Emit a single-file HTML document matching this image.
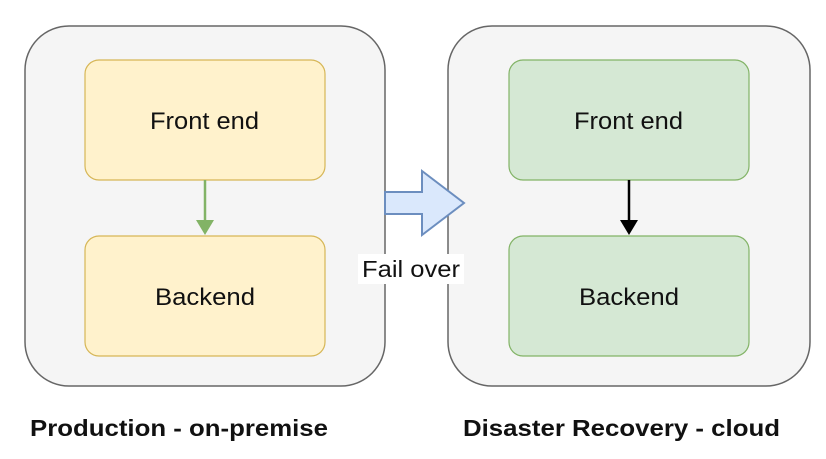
<!DOCTYPE html>
<html><head><style>
body{margin:0;width:826px;height:454px;background:#fff;overflow:hidden;font-family:"Liberation Sans",Arial,sans-serif;}
</style></head><body>
<svg width="826" height="454" xmlns="http://www.w3.org/2000/svg" font-family="Liberation Sans, Arial, sans-serif">
<rect x="25" y="26" width="360" height="360" rx="44" fill="#f5f5f5" stroke="#666" stroke-width="1.5"/>
<rect x="448" y="26" width="362" height="360" rx="44" fill="#f5f5f5" stroke="#666" stroke-width="1.5"/>
<rect x="85" y="60" width="240" height="120" rx="14" fill="#fff2cc" stroke="#d6b656" stroke-width="1.2"/>
<rect x="85" y="236" width="240" height="120" rx="14" fill="#fff2cc" stroke="#d6b656" stroke-width="1.2"/>
<rect x="509" y="60" width="240" height="120" rx="14" fill="#d5e8d4" stroke="#82b366" stroke-width="1.2"/>
<rect x="509" y="236" width="240" height="120" rx="14" fill="#d5e8d4" stroke="#82b366" stroke-width="1.2"/>
<text x="150" y="129" font-size="24" textLength="109" lengthAdjust="spacingAndGlyphs" fill="#111">Front end</text>
<text x="155" y="305" font-size="24" textLength="100" lengthAdjust="spacingAndGlyphs" fill="#111">Backend</text>
<text x="574" y="129" font-size="24" textLength="109" lengthAdjust="spacingAndGlyphs" fill="#111">Front end</text>
<text x="579" y="305" font-size="24" textLength="100" lengthAdjust="spacingAndGlyphs" fill="#111">Backend</text>
<line x1="205" y1="180" x2="205" y2="224" stroke="#82b366" stroke-width="2.5"/>
<polygon points="196,220 214,220 205,235" fill="#82b366"/>
<line x1="629" y1="180" x2="629" y2="224" stroke="#000" stroke-width="2.5"/>
<polygon points="620,220 638,220 629,235" fill="#000"/>
<polygon points="385,192 422,192 422,171 464,203 422,235 422,214 385,214" fill="#dae8fc" stroke="#6c8ebf" stroke-width="2"/>
<rect x="358" y="254" width="106" height="30" fill="#fff"/>
<text x="362" y="277" font-size="23" textLength="98" lengthAdjust="spacingAndGlyphs" fill="#111">Fail over</text>
<text x="30" y="436" font-size="23" font-weight="bold" textLength="298" lengthAdjust="spacingAndGlyphs" fill="#111">Production - on-premise</text>
<text x="463" y="436" font-size="23" font-weight="bold" textLength="317" lengthAdjust="spacingAndGlyphs" fill="#111">Disaster Recovery - cloud</text>
</svg>
</body></html>
